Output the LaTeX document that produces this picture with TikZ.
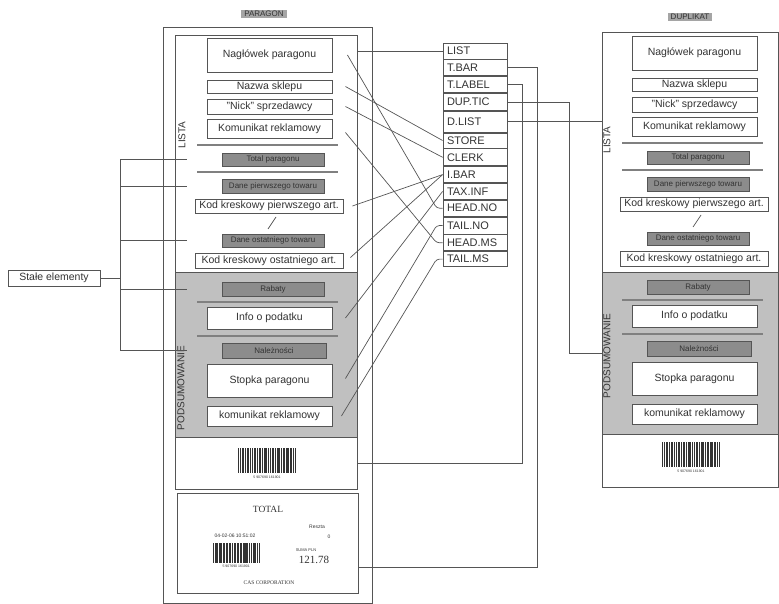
\documentclass[tikz,border=0pt]{standalone}
\usepackage{fontspec}
\setmainfont{Liberation Sans}
\newfontfamily\szeryf{Liberation Serif}
\usetikzlibrary{positioning}
\definecolor{liniagray}{RGB}{85,85,85}
\definecolor{tlogray}{RGB}{192,192,192}
\definecolor{ciemnygray}{RGB}{140,140,140}
\definecolor{etykgray}{RGB}{165,165,165}

\begin{document}
\begin{tikzpicture}[
  x=1pt, y=-1pt,
  every node/.style={font=\fontsize{10.5}{11}\selectfont, text=black!80, inner sep=0pt},
  ramka/.style={draw=liniagray, line width=0.9pt},
  box/.style={draw=liniagray, fill=white, line width=0.9pt, minimum width=125pt, minimum height=14pt},
  kodbox/.style={box, minimum width=148pt},
  szary/.style={draw=liniagray, fill=ciemnygray, line width=0.8pt, minimum width=102pt, minimum height=13pt, font=\fontsize{8}{9}\selectfont},
  kreska/.style={draw=gray, line width=1.2pt},
  pole/.style={draw=liniagray, fill=white, line width=0.8pt, minimum width=64pt, minimum height=16pt, text width=56pt, align=left, font=\fontsize{11}{12}\selectfont},
  lacze/.style={draw=liniagray, line width=0.7pt},
  naglowek/.style={fill=etykgray, inner xsep=3pt, inner ysep=1.5pt, font=\fontsize{8}{9}\selectfont},
  pion/.style={rotate=90, font=\fontsize{10}{11}\selectfont},
  drobny/.style={font=\fontsize{5}{6}\selectfont},
  kreski/.pic={
    \foreach \x/\w in {0/1.2,2/1,3.8/2.2,7/1,8.6/2.6,12/1,13.8/1.2,16/2.4,19.4/1,21/2,24/1.2,26/3,30/1,31.8/1.2,34/2.2,37.2/1,39/3,43/1,44.8/2,47.6/1,49.4/1.2,51.6/2.4,55/1,57/1}
      \fill[black!80] (\x,0) rectangle ++(\w,25);
    \node (-cyfry) [font=\fontsize{3.5}{4}\selectfont] at (29,29) {5 907690 161901};
  }
]
  \path[use as bounding box] (0,0) rectangle (779,604);

  % Ramki
  \node (pramka) [ramka, minimum width=209pt, minimum height=576pt] at (267.5,315) {};
  \node (plista) [ramka, minimum width=182pt, minimum height=237pt] at (266,153.5) {};
  \node (ppodsum) [ramka, fill=tlogray, minimum width=182pt, minimum height=165pt] at (266,354.5) {};
  \node (pkod) [ramka, minimum width=182pt, minimum height=52pt] at (266,463) {};
  \node (ptotal) [ramka, minimum width=181pt, minimum height=100pt] at (267.5,543) {};
  \node (dramka) [ramka, minimum width=176pt, minimum height=455pt] at (690,259.5) {};
  \node (dpodsum) [ramka, fill=tlogray, minimum width=176pt, minimum height=162pt] at (690,353) {};

  \node (paragon) [naglowek] at (264,14) {PARAGON};
  \node (duplikat) [naglowek] at (690,17) {DUPLIKAT};
  \node (plistanap) [pion] at (182,135) {LISTA};
  \node (ppodsumnap) [pion] at (181,388) {PODSUMOWANIE};
  \node (dlistanap) [pion] at (607,140) {LISTA};
  \node (dpodsumnap) [pion] at (607,356) {PODSUMOWANIE};

  % Zawartosc paragonu i duplikatu
  \foreach \p/\dx/\dy in {p/0/0, d/425/-2} {
    \begin{scope}[shift={(\dx,\dy)}]
      \node (\p-nagl) [box, minimum height=34pt] at (269.5,55) {Nagłówek paragonu};
      \node (\p-sklep) [box, minimum height=13pt] at (269.5,86.5) {Nazwa sklepu};
      \node (\p-nick) [box, minimum height=15pt] at (269.5,106.5) {"Nick" sprzedawcy};
      \node (\p-rekl) [box, minimum height=19pt] at (269.5,128.5) {Komunikat reklamowy};
      \draw [kreska] (197,145) -- (338,145);
      \node (\p-totpar) [szary] at (273,159.5) {Total paragonu};
      \draw [kreska] (197,172) -- (338,172);
      \node (\p-pierwszy) [szary, minimum height=14pt] at (273,186) {Dane pierwszego towaru};
      \node (\p-kodp) [kodbox] at (269,206) {Kod kreskowy pierwszego art.};
      \draw [lacze] (276,217) -- (268,229);
      \node (\p-ostatni) [szary] at (273,240.5) {Dane ostatniego towaru};
      \node (\p-kodo) [kodbox, minimum height=15pt] at (269,260.5) {Kod kreskowy ostatniego art.};
      \node (\p-rabaty) [szary, minimum height=14pt] at (273,289) {Rabaty};
      \draw [kreska] (197,302) -- (338,302);
      \node (\p-podatek) [box, minimum height=22pt] at (269.5,318) {Info o podatku};
      \draw [kreska] (197,336) -- (338,336);
      \node (\p-nalez) [szary, minimum width=104pt, minimum height=15pt] at (274,350.5) {Należności};
      \node (\p-stopka) [box, minimum height=33pt] at (269.5,380.5) {Stopka paragonu};
      \node (\p-rekl2) [box, minimum height=20pt] at (269.5,416) {komunikat reklamowy};
    \end{scope}
  }

  % Kody kreskowe i wydruk TOTAL
  \pic (pkreski) at (238,448) {kreski};
  \pic (dkreski) at (662,442) {kreski};
  \pic (tkreski) [scale=0.8] at (213,543) {kreski};
  \node (napistotal) [font=\szeryf\fontsize{9.5}{10}\selectfont] at (268,509) {TOTAL};
  \node (napisdata) [drobny] at (235,536) {04-02-06 10:51:02};
  \node (napisreszta) [drobny] at (317,527) {Reszta};
  \node (napiszero) [drobny] at (329,537) {0};
  \node (napissuma) [font=\fontsize{4}{5}\selectfont] at (306,550) {SUMA PLN};
  \node (napiskwota) [font=\szeryf\fontsize{11}{12}\selectfont] at (314,560) {121.78};
  \node (napisfirma) [font=\szeryf\fontsize{5.5}{6}\selectfont] at (269,583) {CAS CORPORATION};

  % Kolumna parametrow
  \node (list) [pole] at (475,51) {LIST};
  \node (tbar) [pole, below=0pt of list] {T.BAR};
  \node (tlabel) [pole, below=0pt of tbar] {T.LABEL};
  \node (duptic) [pole, minimum height=17pt, below=0pt of tlabel] {DUP.TIC};
  \node (dlist) [pole, minimum height=21pt, below=0pt of duptic] {D.LIST};
  \node (store) [pole, minimum height=15pt, below=0pt of dlist] {STORE};
  \node (clerk) [pole, minimum height=17pt, below=0pt of store] {CLERK};
  \node (ibar) [pole, below=0pt of clerk] {I.BAR};
  \node (taxinf) [pole, below=0pt of ibar] {TAX.INF};
  \node (headno) [pole, below=0pt of taxinf] {HEAD.NO};
  \node (tailno) [pole, minimum height=17pt, below=0pt of headno] {TAIL.NO};
  \node (headms) [pole, below=0pt of tailno] {HEAD.MS};
  \node (tailms) [pole, minimum height=15pt, below=0pt of headms] {TAIL.MS};

  % Stale elementy
  \node (stale) [draw=liniagray, line width=0.8pt, minimum width=92pt, minimum height=16pt] at (54,278) {Stałe elementy};
  \draw [lacze] (stale.east) -- ++(20,0) coordinate (grzbiet);
  \draw [lacze] (grzbiet |- p-totpar) -- (grzbiet |- p-nalez);
  \foreach \n in {totpar,pierwszy,ostatni,rabaty,nalez}
    \draw [lacze] (grzbiet |- p-\n) -- ([xshift=-35pt]p-\n.west);

  % Polaczenia
  \draw [lacze] (list.west) -- (list.west -| plista.east);
  \draw [lacze] (tbar.east) -- ++(30,0) |- ([yshift=-24pt]ptotal.east);
  \draw [lacze] (tlabel.east) -- ++(15,0) |- (pkod.east);
  \draw [lacze] (duptic.east) -- ++(62,0) |- (dpodsum.west);
  \draw [lacze] (dlist.east) -- (dlist.east -| dramka.west);

  \draw [lacze, rounded corners=3pt] ([xshift=15pt]p-nagl.east) -- ([xshift=-6pt]headno.west) -- (headno.west);
  \draw [lacze] ([xshift=13pt]p-sklep.east) -- (store.west);
  \draw [lacze] ([xshift=13pt]p-nick.east) -- (clerk.west);
  \draw [lacze, rounded corners=3pt] ([xshift=13pt,yshift=-4pt]p-rekl.east) -- ([xshift=-6pt]headms.west) -- (headms.west);
  \draw [lacze] ([xshift=9pt]p-kodp.east) -- (ibar.west);
  \draw [lacze] ([xshift=7pt,yshift=3pt]p-kodo.east) -- (ibar.west);
  \draw [lacze] ([xshift=13pt]p-podatek.east) -- (taxinf.west);
  \draw [lacze, rounded corners=3pt] ([xshift=13pt,yshift=2pt]p-stopka.east) -- ([xshift=-6pt]tailno.west) -- (tailno.west);
  \draw [lacze, rounded corners=3pt] ([xshift=9pt]p-rekl2.east) -- ([xshift=-6pt]tailms.west) -- (tailms.west);
\end{tikzpicture}
\end{document}
